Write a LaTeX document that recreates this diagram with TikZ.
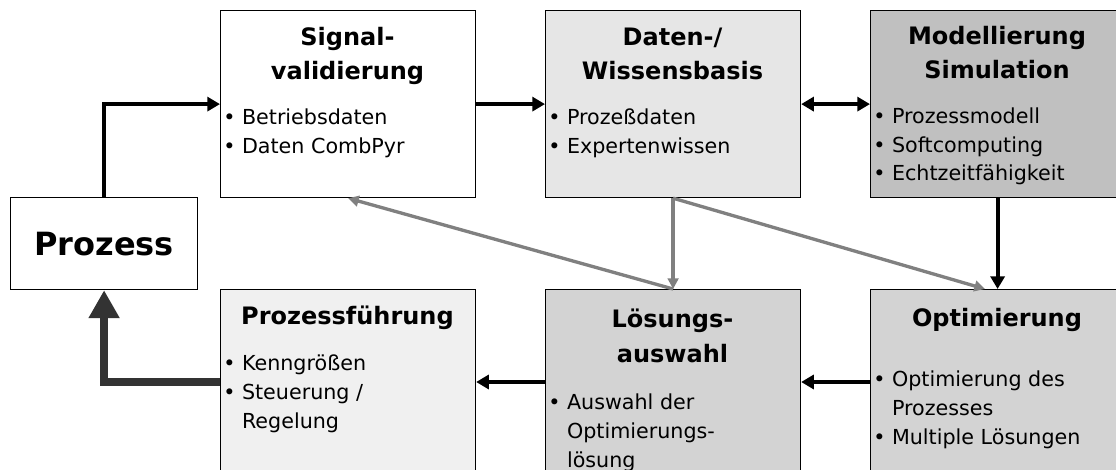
\documentclass[tikz,border=0pt]{standalone}
\usepackage{fontspec}
\setmainfont{DejaVu Sans}
\usetikzlibrary{arrows.meta}
\definecolor{boxlight}{HTML}{E6E6E6}
\definecolor{boxdark}{HTML}{C0C0C0}
\definecolor{boxpale}{HTML}{F0F0F0}
\definecolor{boxmid}{HTML}{D3D3D3}
\definecolor{arrowgray}{HTML}{808080}
\definecolor{feedback}{HTML}{333333}
\newcommand{\bulletpad}{\hphantom{•\ }}
\begin{document}
\begin{tikzpicture}[x=0.75pt,y=-0.75pt,
  box/.style={draw, line width=0.9pt, anchor=north west, inner sep=0pt,
    minimum width=191.25pt},
  head/.style={font=\bfseries\fontsize{18}{26}\selectfont, align=center, anchor=base, inner sep=0pt},
  item/.style={font=\fontsize{15.5}{21.4}\selectfont, align=left, anchor=base west, inner sep=0pt},
  >={Triangle[length=9.5pt,width=10.5pt]},
  flow/.style={line width=3pt},
  back/.style={line width=2.5pt, draw=arrowgray, -{Triangle[length=8pt,width=8pt]}}]
\clip (0,0) rectangle (1116,470);
% boxes
\node[box, fill=white, minimum height=140.25pt] (sig) at (220,10) {};
\node[box, fill=boxlight, minimum height=140.25pt] (db) at (545,10) {};
\node[box, fill=boxdark, minimum height=140.25pt, minimum width=190.5pt] (mod) at (870,10) {};
\node[box, fill=white, minimum width=140.25pt, minimum height=69pt,
  font=\bfseries\fontsize{24}{28}\selectfont] (proz) at (10,197) {Prozess};
\node[box, fill=boxpale, minimum height=150pt] (pf) at (220,289) {};
\node[box, fill=boxmid, minimum height=150pt] (los) at (545,289) {};
\node[box, fill=boxmid, minimum height=150pt, minimum width=190.5pt] (opt) at (870,289) {};
% headings
\node[head] (sighead) at (347.5,80) {Signal-\\validierung};
\node[head] (dbhead) at (672.5,80) {Daten-/\\Wissensbasis};
\node[head] (modhead) at (997,79) {Modellierung\\Simulation};
\node[head] (pfhead) at (347.5,324) {Prozessführung};
\node[head] (loshead) at (672.5,362) {Lösungs-\\auswahl};
\node[head] (opthead) at (997,326) {Optimierung};
% items
\node[item] (sigitems) at (223,153.5) {• Betriebsdaten\\• Daten CombPyr};
\node[item] (dbitems) at (548,153.5) {• Prozeßdaten\\• Expertenwissen};
\node[item] (moditems) at (873,181) {• Prozessmodell\\• Softcomputing\\• Echtzeitfähigkeit};
\node[item] (pfitems) at (223,428) {• Kenngrößen\\• Steuerung /\\\bulletpad Regelung};
\node[item] (positems) at (548,467) {• Auswahl der\\\bulletpad Optimierungs-\\\bulletpad lösung};
\node[item] (optitems) at (873,444) {• Optimierung des\\\bulletpad Prozesses\\• Multiple Lösungen};
% connectors
\coordinate (low) at (0,382);
\coordinate (og) at (985,0);
\draw[flow, ->] (proz.north) |- (sig.west);
\draw[flow, ->] (sig.east) -- (db.west);
\draw[flow, <->] (db.east) -- (mod.west);
\draw[flow, ->] (mod.south) -- (opt.north);
\draw[flow, ->] (opt.west |- low) -- (los.east |- low);
\draw[flow, ->] (los.west |- low) -- (pf.east |- low);
\draw[feedback, line width=6pt, -{Triangle[length=21pt,width=22pt]}] (pf.west |- low) -| (proz.south);
\draw[back] (db.south) -- (los.north);
\draw[back] (db.south) -- (opt.north -| og);
\draw[back] (los.north) -- (sig.south);
\end{tikzpicture}
\end{document}
